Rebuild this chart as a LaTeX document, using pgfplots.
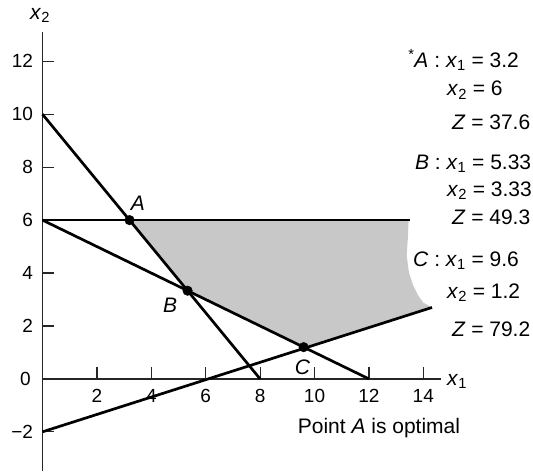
\documentclass[border=0pt]{standalone}
\usepackage{fontspec}
\setmainfont{Liberation Sans}
\usepackage{pgfplots}
\pgfplotsset{compat=1.18}
\newcommand{\xs}[1]{\textit{x}\textsubscript{#1}}
\definecolor{region}{RGB}{200,200,200}
\tikzset{lbl/.style={font=\fontsize{21}{23}\selectfont},
         ann/.style={lbl, anchor=west, inner sep=0pt}}

\begin{document}
\begin{tikzpicture}
\begin{axis}[
  scale only axis, width=398.5pt, height=439.3pt,
  xmin=0, xmax=14.65, ymin=-3.48, ymax=13.12,
  enlargelimits=false, clip=false,
  axis lines=middle, axis line style={-, line width=1.3pt, black!85},
  xtick={2,4,...,14}, ytick={-2,2,4,...,12},
  yticklabels={−2,2,4,6,8,10,12},
  major tick length=12pt,
  tick style={line width=1.2pt, black!85},
  xtick style={yshift=6pt}, ytick style={xshift=6pt},
  xticklabel style={font=\fontsize{19}{21}\selectfont, yshift=-1pt},
  yticklabel style={font=\fontsize{19}{21}\selectfont},
  /pgf/number format/assume math mode=true,
]
% feasible region
\addplot[fill=region, draw=none] coordinates {
  (3.2,6) (5.333,3.333) (9.6,1.2) (14.32,2.7)
  (14.0,2.88) (13.82,3.14) (13.63,3.52) (13.47,4.03)
  (13.39,4.66) (13.43,5.3) (13.46,6)} -- cycle;
% constraint lines
\addplot[black, line width=2.7pt] coordinates {(0,10) (8,0)};
\addplot[black, line width=2.7pt] coordinates {(0,6) (12,0)};
\addplot[black, line width=2.7pt] coordinates {(0,-2) (14.32,2.7)};
\addplot[black, line width=2.7pt] coordinates {(0,6) (13.5,6)};
% corner points
\addplot[only marks, mark=*, mark size=4.8pt, black]
  coordinates {(3.2,6) (5.333,3.333) (9.6,1.2)};

\node[font=\fontsize{19}{21}\selectfont, anchor=east] at (axis cs:-0.3,0) {0};
\node[lbl] at (axis cs:-0.09,13.75) {\xs{2}};
\node[lbl] at (axis cs:15.24,-0.11) {\xs{1}};
\node[lbl] at (axis cs:3.51,6.63) {\textit{A}};
\node[lbl] at (axis cs:4.69,2.77) {\textit{B}};
\node[lbl] at (axis cs:9.56,0.44) {\textit{C}};
\node[lbl] at (axis cs:12.37,-1.86) {Point \textit{A} is optimal};

\node[ann] at (axis cs:13.44,12.05) {\textsuperscript{*}\textit{A} : \xs{1} = 3.2};
\node[ann] at (axis cs:14.87,10.91) {\xs{2} = 6};
\node[ann] at (axis cs:15.05,9.70) {\textit{Z} = 37.6};
\node[ann] at (axis cs:13.69,8.14) {\textit{B} : \xs{1} = 5.33};
\node[ann] at (axis cs:14.87,7.12) {\xs{2} = 3.33};
\node[ann] at (axis cs:15.05,6.10) {\textit{Z} = 49.3};
\node[ann] at (axis cs:13.62,4.47) {\textit{C} : \xs{1} = 9.6};
\node[ann] at (axis cs:14.87,3.26) {\xs{2} = 1.2};
\node[ann] at (axis cs:15.05,1.89) {\textit{Z} = 79.2};

\path (axis cs:-1.5625,-3.523) rectangle (axis cs:18.033,14.318);
\end{axis}
\end{tikzpicture}
\end{document}
